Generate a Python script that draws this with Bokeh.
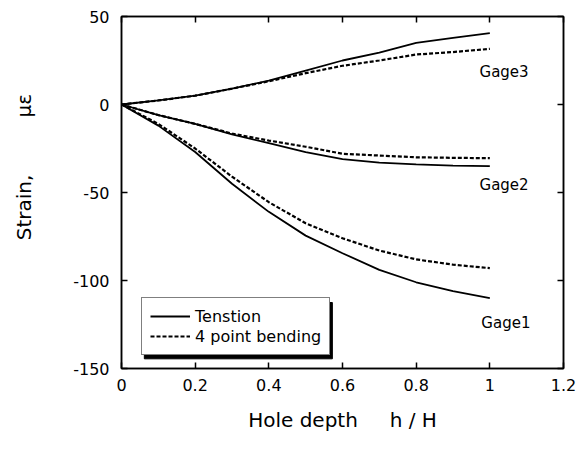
from bokeh.plotting import figure
from bokeh.models import (LinearAxis, FixedTicker, CustomJSTickFormatter, Label,
                          Legend, LegendItem)
from bokeh.embed import file_html
from bokeh.resources import INLINE

# ---- data ----
depth = [0, 0.1, 0.2, 0.3, 0.4, 0.5, 0.6, 0.7, 0.8, 0.9, 1.0]
gage1_tension = [0, -12, -27, -45, -61, -74.5, -84.5, -94, -101, -106, -110]
gage1_bending = [0, -11, -25, -41, -55.5, -67.5, -76, -83, -88, -91, -93]
gage2_tension = [0, -6, -11, -17, -22, -27, -31, -33, -34, -34.7, -35]
gage2_bending = [0, -6, -11, -16.5, -20.5, -24, -28, -29, -30, -30.3, -30.5]
gage3_tension = [0, 2.3, 5, 9, 13.6, 19.3, 25, 29.5, 35, 37.8, 40.5]
gage3_bending = [0, 2.3, 5, 9, 13.2, 17.8, 22, 25, 28.4, 29.8, 31.6]

x_ticks = [0, 0.2, 0.4, 0.6, 0.8, 1.0, 1.2]
y_ticks = [-150, -100, -50, 0, 50]

gage_names = ["Gage3", "Gage2", "Gage1"]
gage_label_x = [0.972, 0.972, 0.977]
gage_label_y = [18.2, -45.5, -124]

legend_names = ["Tenstion", "4 point bending"]

FONT = "DejaVu Sans"
NB = "\u00a0"

p = figure(width=588, height=454, frame_width=442, frame_height=352,
           x_range=(0, 1.2), y_range=(-150, 50),
           output_backend="svg", toolbar_location=None,
           min_border_left=121, min_border_right=25,
           min_border_top=16, min_border_bottom=86,
           x_axis_location=None, y_axis_location=None)
p.grid.visible = False
p.outline_line_color = "black"
p.outline_line_width = 1.5
p.background_fill_color = "white"
p.border_fill_color = "white"

fmt_x = CustomJSTickFormatter(code="return String(Math.round(tick*10)/10);")
fmt_y = CustomJSTickFormatter(code="return String(Math.round(tick));")
fmt_none = CustomJSTickFormatter(code="return '';")


def style_axis(ax, ticks, fmt, show_labels):
    ax.ticker = FixedTicker(ticks=ticks)
    ax.formatter = fmt
    ax.axis_line_color = "black"
    ax.axis_line_width = 1.5
    ax.major_tick_line_color = "black"
    ax.major_tick_line_width = 1.5
    ax.major_tick_in = 6
    ax.major_tick_out = 0
    ax.minor_tick_line_color = None
    ax.major_label_text_font = FONT
    ax.major_label_text_color = "black"
    ax.axis_label_text_color = "black"
    ax.axis_label_text_font = FONT
    ax.axis_label_text_font_style = "normal"
    if show_labels:
        ax.major_label_text_font_size = "16px"
    else:
        ax.major_label_text_font_size = "1px"
        ax.major_label_standoff = 0


xb = LinearAxis()
style_axis(xb, x_ticks, fmt_x, True)
xb.major_label_standoff = 10
xb.axis_label = "Hole depth" + NB * 5 + "h / H"
xb.axis_label_text_font_size = "20px"
xb.axis_label_standoff = 14
p.add_layout(xb, "below")

yl = LinearAxis()
style_axis(yl, y_ticks, fmt_y, True)
yl.major_label_standoff = 12
yl.axis_label = NB * 8 + "Strain," + NB * 9 + "με"
yl.axis_label_text_font_size = "20px"
yl.axis_label_standoff = 34
p.add_layout(yl, "left")

xt = LinearAxis()
style_axis(xt, x_ticks, fmt_none, False)
p.add_layout(xt, "above")

yr = LinearAxis()
style_axis(yr, y_ticks, fmt_none, False)
p.add_layout(yr, "right")

# ---- legend drop shadow (decoration, drawn beneath the legend box) ----
p.quad(left=[0.062], right=[0.5725], top=[-112.5], bottom=[-144.5],
       fill_color="black", line_color="black")

# ---- lines ----
series = [(gage1_tension, gage1_bending), (gage2_tension, gage2_bending),
          (gage3_tension, gage3_bending)]
tension_renderers = []
bending_renderers = []
for ten, ben in series:
    r1 = p.line(depth, ten, line_color="black", line_width=1.8)
    r2 = p.line(depth, ben, line_color="black", line_width=2.2, line_dash="4 2")
    tension_renderers.append(r1)
    bending_renderers.append(r2)

# ---- gage labels ----
for name, gx, gy in zip(gage_names, gage_label_x, gage_label_y):
    p.add_layout(Label(x=gx, y=gy, text=name, text_font=FONT,
                       text_font_size="15px", text_align="left",
                       text_baseline="middle", text_color="black"))

legend = Legend(items=[LegendItem(label=legend_names[0], renderers=[tension_renderers[0]]),
                       LegendItem(label=legend_names[1], renderers=[bending_renderers[0]])],
                location=(20, 13))
legend.label_text_font = FONT
legend.label_text_font_size = "16px"
legend.label_text_color = "black"
legend.glyph_width = 40
legend.glyph_height = 20
legend.label_height = 20
legend.label_standoff = 5
legend.padding = 8
legend.spacing = 0
legend.margin = 0
legend.border_line_color = "black"
legend.border_line_width = 1.5
legend.background_fill_color = "white"
legend.background_fill_alpha = 1.0
p.add_layout(legend, "center")

open("out.html", "w").write(file_html(p, INLINE))
